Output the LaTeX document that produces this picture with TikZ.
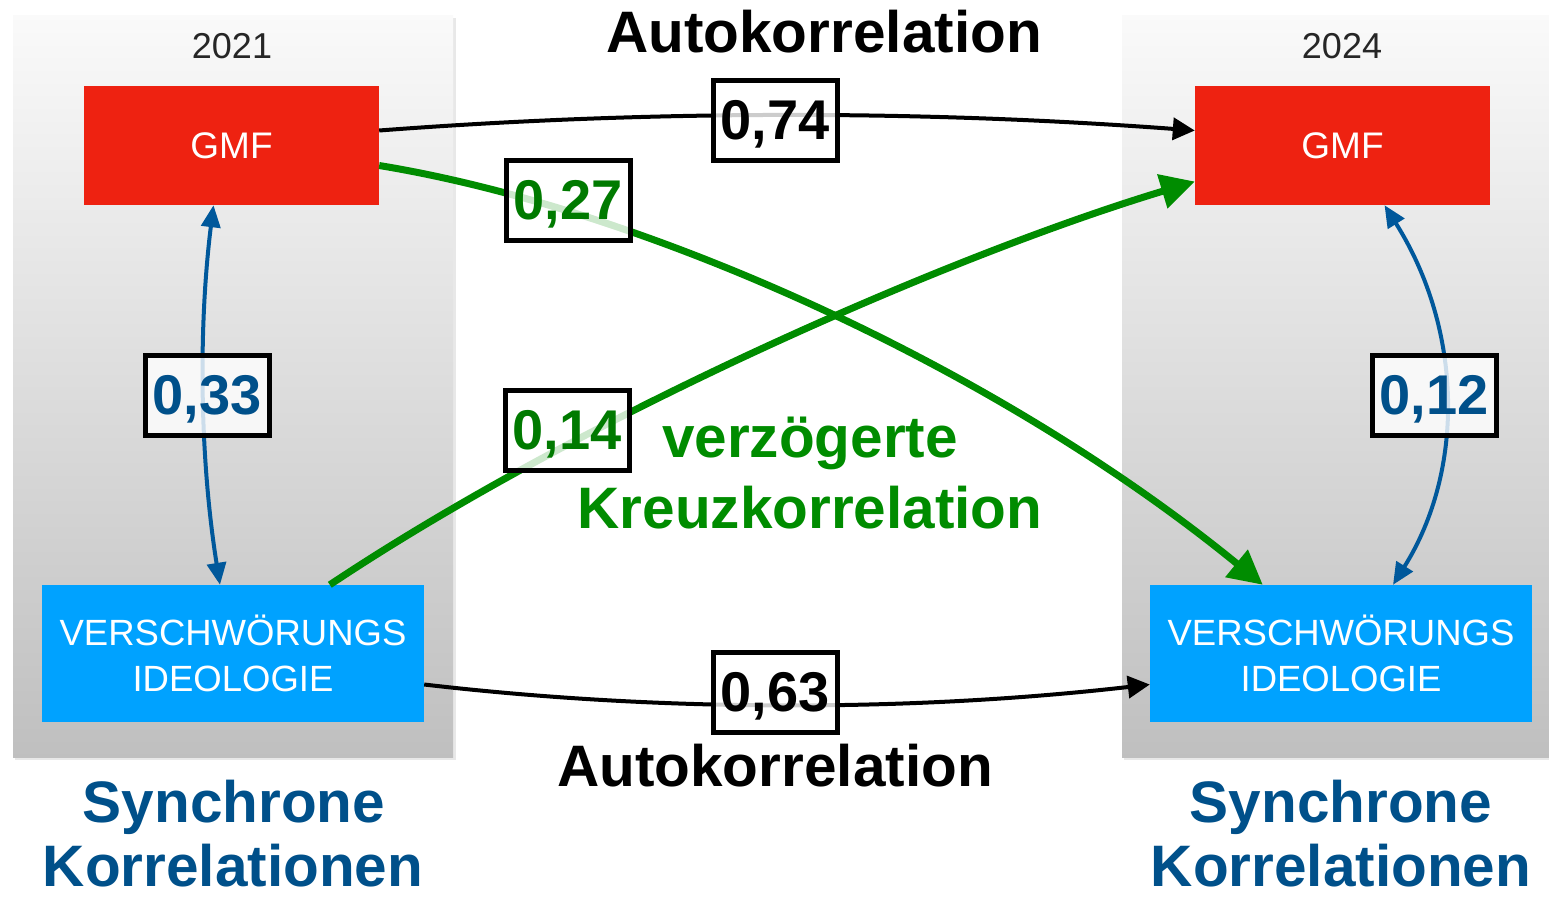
\documentclass[tikz,border=0pt]{standalone}
\usepackage{fontspec}
\setmainfont{Liberation Sans}
\usetikzlibrary{arrows.meta,calc}
\definecolor{gmfred}{RGB}{238,34,17}
\definecolor{viblue}{RGB}{0,162,255}
\definecolor{darkblue}{RGB}{0,80,138}
\definecolor{arrowblue}{RGB}{0,88,155}
\definecolor{lblgreen}{RGB}{0,122,0}
\definecolor{arrgreen}{RGB}{0,140,0}
\begin{document}
\begin{tikzpicture}[x=1pt,y=-1pt,
  panel/.style={draw=none, top color=gray!4, bottom color=gray!50},
  panelshadow/.style={draw=none, fill=gray!30, opacity=0.6},
  gmfbox/.style={draw=none, fill=gmfred, minimum width=295pt, minimum height=119pt, inner sep=0pt, text=white, font=\fontsize{37}{44}\selectfont},
  vibox/.style={draw=none, fill=viblue, minimum width=382pt, minimum height=137pt, inner sep=0pt, text=white, align=center, font=\fontsize{36.5}{46}\selectfont},
  year/.style={anchor=base, font=\fontsize{36}{40}\selectfont, text=black!85},
  lbl/.style={draw=black, line width=5pt, fill=white, fill opacity=0.8, text opacity=1, minimum width=124pt, minimum height=80pt, inner sep=0pt, text depth=0pt, font=\bfseries\fontsize{56}{60}\selectfont},
  title/.style={anchor=base, inner sep=0pt, font=\bfseries\fontsize{58.5}{68}\selectfont},
  autoarrow/.style={draw=black, line width=4pt, -{Triangle[length=22pt,width=22pt]}},
  crossarrow/.style={draw=arrgreen, line width=7pt, -{Triangle[length=34pt,width=34pt]}},
  syncarrow/.style={draw=arrowblue, line width=4pt, {Triangle[length=22pt,width=19pt]}-{Triangle[length=22pt,width=19pt]}}
]
\useasboundingbox (0,0) rectangle (1549,900);
\clip (0,0) rectangle (1549,900);

% panels
\fill[panelshadow] (15,18) rectangle (456,760);
\fill[panelshadow] (1124,18) rectangle (1560,760);
\shade[panel] (13,15) rectangle (453,757);
\shade[panel] (1122,15) rectangle (1560,757);

\node[year] (y1) at (232,58) {2021};
\node[year] (y2) at (1342,58) {2024};

% nodes
\node[gmfbox] (gmfL) at (231.5,145.5) {GMF};
\node[gmfbox] (gmfR) at (1342.5,145.5) {GMF};
\node[vibox] (viL) at (233,653.5) {VERSCHWÖRUNGS\\IDEOLOGIE};
\node[vibox] (viR) at (1341,653.5) {VERSCHWÖRUNGS\\IDEOLOGIE};

% connectors
\draw[autoarrow] ($(gmfL.east)+(0,-15)$) .. controls (650,110) and (920,110) .. ($(gmfR.west)+(0,-15)$);
\draw[autoarrow] ($(viL.east)+(0,31)$) .. controls (660,712) and (910,712) .. ($(viR.west)+(0,31)$);
\draw[crossarrow] ($(gmfL.east)+(0,20)$) .. controls (650,210) and (1000,370) .. ($(viR.north west)+(113,0)$);
\draw[crossarrow] ($(viL.north west)+(288,0)$) .. controls (580,418) and (945,257) .. ($(gmfR.west)+(0,36)$);
\draw[syncarrow] ($(gmfL.south)+(-18,0)$) .. controls (198,330) and (200,460) .. ($(viL.north)+(-13,0)$);
\draw[syncarrow] ($(gmfR.south)+(42,0)$) .. controls (1463,330) and (1465,470) .. ($(viR.north)+(52,0)$);

% labels
\node[lbl, text=black] (l74) at (775,120) {0,74};
\node[lbl, text=lblgreen] (l27) at (568,200) {0,27};
\node[lbl, text=darkblue] (l33) at (207,395) {0,33};
\node[lbl, text=lblgreen] (l14) at (567,430) {0,14};
\node[lbl, text=darkblue] (l12) at (1434,395) {0,12};
\node[lbl, text=black] (l63) at (775,692) {0,63};

% titles
\node[title, text=black] (t1) at (824,52) {Autokorrelation};
\node[title, text=black] (t2) at (775,786) {Autokorrelation};
\node[title, text=arrgreen] (t3) at (810,457) {verzögerte};
\node[title, text=arrgreen] (t4) at (810,528) {Kreuzkorrelation};
\node[title, text=darkblue] (s1) at (234,822) {Synchrone};
\node[title, text=darkblue] (s2) at (233,886) {Korrelationen};
\node[title, text=darkblue] (s3) at (1341,822) {Synchrone};
\node[title, text=darkblue] (s4) at (1341,886) {Korrelationen};
\end{tikzpicture}
\end{document}
